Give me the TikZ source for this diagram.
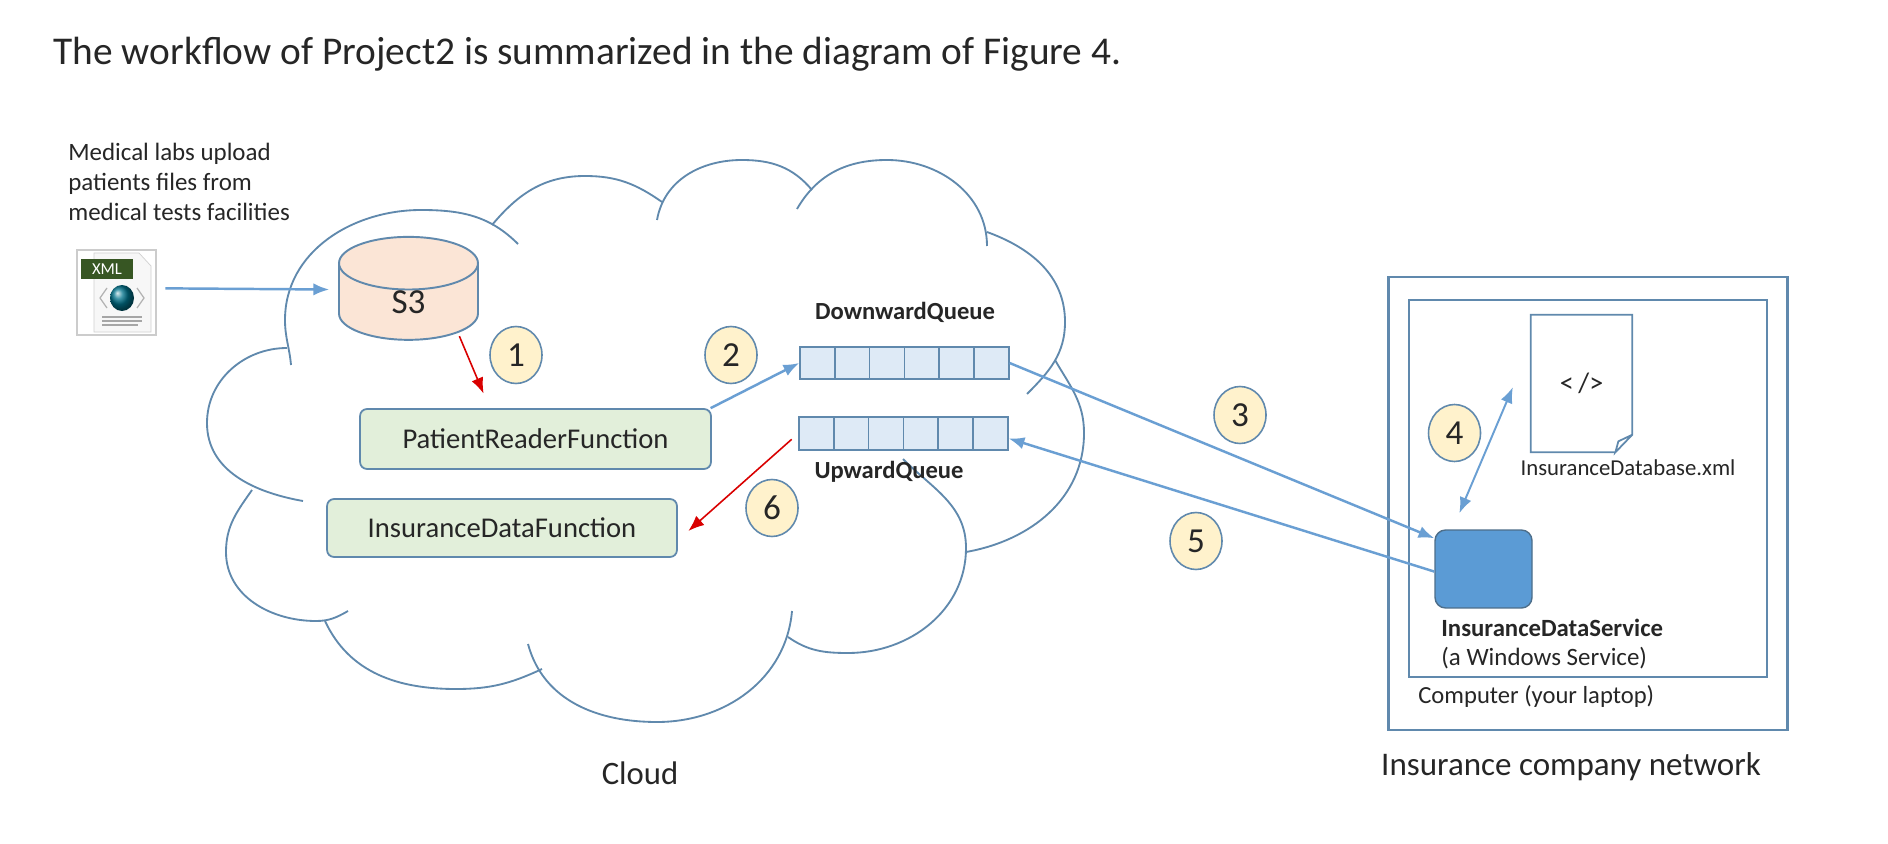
\documentclass[tikz,border=0pt]{standalone}
\usepackage{fontspec}
\setmainfont{Carlito}
\usepackage{xcolor}
\usetikzlibrary{arrows.meta,positioning,shapes.geometric}
\definecolor{edgeblue}{HTML}{6089AD}
\definecolor{arrowblue}{HTML}{6A9FD3}
\definecolor{textgrey}{HTML}{262626}
\definecolor{greenfill}{HTML}{E2EFDA}
\definecolor{cellfill}{HTML}{DEEAF6}
\definecolor{stepfill}{HTML}{FFF2CC}
\definecolor{binfill}{HTML}{FBE5D6}
\definecolor{servicefill}{HTML}{5B9BD5}
\definecolor{xmlgreen}{HTML}{375623}
\begin{document}
\begin{tikzpicture}[x=0.02cm,y=-0.02cm,text=textgrey,
   cloudline/.style={edgeblue,line width=1.05pt},
   bluearrow/.style={arrowblue,line width=1.4pt,-{Latex[length=9pt,width=7pt]}},
   twoarrow/.style={arrowblue,line width=1.1pt,{Latex[length=9pt,width=7pt]}-{Latex[length=9pt,width=7pt]}},
   redarrow/.style={red!85!black,line width=0.9pt,-{Latex[length=9pt,width=7pt]}},
   funcbox/.style={draw=edgeblue,fill=greenfill,line width=1pt,rounded corners=4pt,font=\fontsize{16.3}{18}\selectfont},
   qcell/.style={draw=edgeblue,fill=cellfill,line width=0.9pt,minimum width=0.696cm,minimum height=#1,inner sep=0pt},
   stepmark/.style={ellipse,draw=edgeblue,fill=stepfill,line width=0.9pt,minimum width=1.04cm,minimum height=1.14cm,inner sep=0pt,font=\fontsize{20}{22}\selectfont},
   netbox/.style={draw=edgeblue,line width=1.3pt,inner sep=0pt},
   leftlabel/.style={anchor=west,inner sep=0pt},
   midlabel/.style={inner sep=0pt}]
   \useasboundingbox (0,0) rectangle (1888,844);
   \fill[white] (0,0) rectangle (1888,844);
   \draw[cloudline] (291,365) to[out=95,in=270] (285,320) to[out=90,in=180] (421,210) to[out=0,in=135] (518,244);
   \draw[cloudline] (287,348) to[out=180,in=90] (207,423) to[out=270,in=170] (303,501);
   \draw[cloudline] (252,490) to[out=235,in=90] (226,552) to[out=270,in=180] (316,621) to[out=0,in=210] (348,611);
   \draw[cloudline] (325,621) to[out=-65,in=180] (456,689) to[out=0,in=205] (542,669);
   \draw[cloudline] (528,644) to[out=-75,in=180] (657,722) to[out=0,in=265] (792,611);
   \draw[cloudline] (788,637) to[out=-35,in=180] (848,653) to[out=0,in=270] (966,548) to[out=90,in=-45] (903,459);
   \draw[cloudline] (966,552) to[out=10,in=270] (1084,433) to[out=90,in=-60] (1055,360);
   \draw[cloudline] (1027,394) to[out=45,in=270] (1065,322) to[out=90,in=-20] (987,232);
   \draw[cloudline] (987,246) to[out=90,in=0] (887,160) to[out=180,in=60] (797,209);
   \draw[cloudline] (812,190) to[out=130,in=0] (742,160) to[out=180,in=80] (657,220);
   \draw[cloudline] (662,202) to[out=145,in=0] (585,176) to[out=180,in=50] (492,225);
   \node[midlabel,font=\fontsize{22.4}{25}\selectfont] (title) at (587.5,54) {The workflow of Project2 is summarized in the diagram of Figure 4.};
   \node[leftlabel,font=\fontsize{14.2}{17}\selectfont,align=left] (labs) at (68,182) {Medical labs upload\\patients files from\\medical tests facilities};
   \node[draw=black!20,fill=white,line width=0.6pt,minimum width=1.58cm,minimum height=1.7cm,inner sep=0pt] (xmlicon) at (116.5,292.5) {};
   \draw[black!18,fill=black!3] (94,253) -- (139,253) -- (151,266) -- (151,332) -- (94,332) -- cycle;
   \node[fill=xmlgreen,text=white,minimum width=1.04cm,minimum height=0.4cm,inner sep=0pt,font=\fontsize{9.5}{10}\selectfont] (xmltag) at (107,269) {XML};
   \draw[black!30,line width=0.7pt] (107,288) -- (100,298) -- (107,308) (137,288) -- (144,298) -- (137,308);
   \shade[ball color=blue!55!green] (122,298) circle [x radius=12,y radius=13];
   \draw[black!35,line width=0.9pt] (102,317) -- (142,317) (102,321) -- (142,321) (102,325) -- (138,325);
   \node[cylinder,shape border rotate=90,aspect=1.55,draw=edgeblue,fill=binfill,cylinder uses custom fill,cylinder body fill=binfill,cylinder end fill=binfill,line width=1.1pt,minimum width=2.78cm,minimum height=2.04cm,inner sep=0pt,font=\fontsize{20}{22}\selectfont] (S3) at (408.5,302) {S3};
   \node[funcbox,minimum width=7.02cm,minimum height=1.2cm] (patient) at (535.5,439) {PatientReaderFunction};
   \node[funcbox,minimum width=7cm,minimum height=1.16cm] (insfn) at (502,528) {InsuranceDataFunction};
   \foreach \i in {0,...,5} {
      \node[qcell=0.64cm] (dq\i) at ({817.4+\i*34.8},363) {};
      \node[qcell=0.66cm] (uq\i) at ({816.4+\i*34.8},433.5) {};
   }
   \node[midlabel,font=\fontsize{14}{16}\selectfont\bfseries] (dqlabel) at (905,312) {DownwardQueue};
   \node[midlabel,font=\fontsize{14}{16}\selectfont\bfseries] (uqlabel) at (889,472) {UpwardQueue};
   \node[stepmark] (m1) at (516,355) {1};
   \node[stepmark] (m2) at (731,355) {2};
   \node[stepmark] (m3) at (1240,415) {3};
   \node[stepmark] (m4) at (1454.5,433) {4};
   \node[stepmark] (m5) at (1196,541) {5};
   \node[stepmark] (m6) at (772,508) {6};
   \node[netbox,minimum width=7.98cm,minimum height=9.06cm] (company) at (1588,503.5) {};
   \node[netbox,minimum width=7.16cm,minimum height=7.54cm] (computer) at (1588,488.5) {};
   \node[minimum width=2.02cm,minimum height=2.74cm,inner sep=0pt,font=\fontsize{16}{18}\selectfont] (insdb) at (1581.5,383.5) {<\,/>};
   \draw[edgeblue,line width=1pt] (insdb.south east) ++(-17,0) coordinate (foldb) -- (insdb.south west) -- (insdb.north west) -- (insdb.north east) -- ++(0,120) coordinate (foldr) -- (foldb) -- ++(3,-11) -- (foldr);
   \node[draw=edgeblue!80!black,fill=servicefill,line width=0.8pt,rounded corners=6pt,minimum width=1.94cm,minimum height=1.56cm,inner sep=0pt] (service) at (1483.5,569) {};
   \node[midlabel,font=\fontsize{12.95}{15}\selectfont] (dblabel) at (1628,468) {InsuranceDatabase.xml};
   \node[leftlabel,font=\fontsize{14.1}{16}\selectfont\bfseries] (svclabel) at (1441,628) {InsuranceDataService};
   \node[leftlabel,font=\fontsize{14.2}{16}\selectfont] (svcsub) at (1441,658) {(a Windows Service)};
   \node[leftlabel,font=\fontsize{14}{16}\selectfont] (laptop) at (1418,696) {Computer (your laptop)};
   \node[midlabel,font=\fontsize{18.6}{20}\selectfont] (cloudlabel) at (640,773) {Cloud};
   \node[midlabel,font=\fontsize{18.8}{20}\selectfont] (netlabel) at (1571,767) {Insurance company network};
   \path
   (xmlicon.6) edge[bluearrow,shorten <=5pt,shorten >=5pt] (S3.170)
   (S3.-32) edge[redarrow,shorten <=2pt,shorten >=9pt] (patient.146)
   (patient.10.5) edge[bluearrow] (dq0.west)
   (dq5.east) edge[bluearrow] (service.148)
   (service.183) edge[bluearrow] (uq5.-15)
   (uq0.west) edge[redarrow,shorten <=5pt,shorten >=8pt] (insfn.-4)
   (service.128) edge[twoarrow,shorten <=10pt,shorten >=26pt] (insdb.143);
\end{tikzpicture}
\end{document}
